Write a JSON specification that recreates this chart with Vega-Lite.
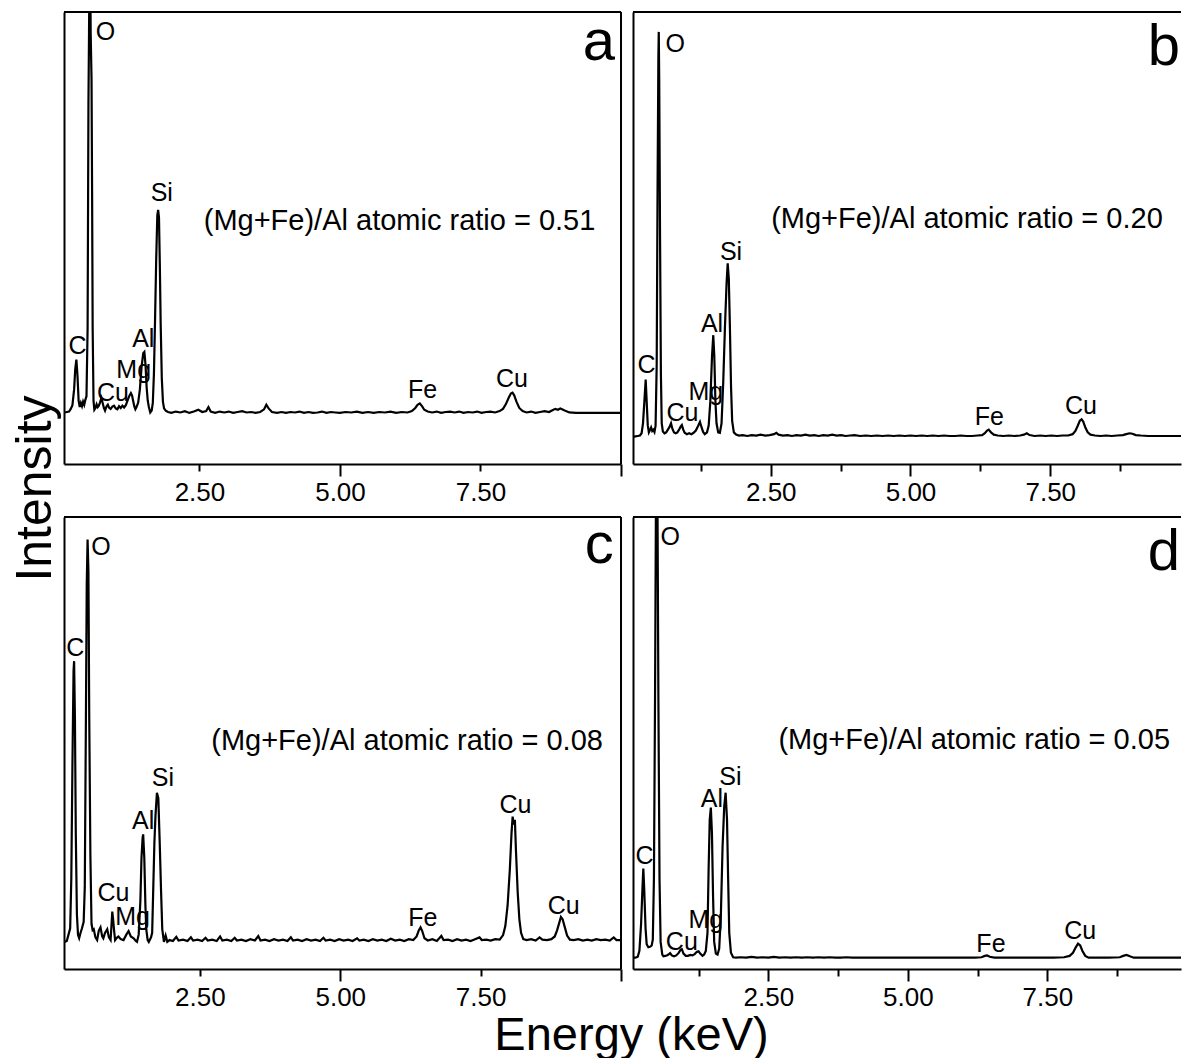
{
  "$schema": "https://vega.github.io/schema/vega-lite/v6.json",
  "background": "white",
  "padding": {"left": 10, "top": 11, "right": 0, "bottom": 0},
  "config": {
    "font": "Liberation Sans",
    "view": {"stroke": null},
    "axis": {"grid": false, "domainColor": "black", "domainWidth": 2, "tickColor": "black", "tickWidth": 2, "labelColor": "black", "titleColor": "black", "titleFontWeight": "normal"},
    "text": {"color": "black"}
  },
  "datasets": {
    "a": [
      {"keV":0.10,"counts":11.4},{"keV":0.14,"counts":11.5},{"keV":0.18,"counts":11.6},{"keV":0.21,"counts":12.2},{"keV":0.24,"counts":13.0},{"keV":0.27,"counts":16.5},{"keV":0.29,"counts":21.0},{"keV":0.31,"counts":23.1},{"keV":0.33,"counts":19.5},{"keV":0.35,"counts":14.0},{"keV":0.37,"counts":12.6},{"keV":0.39,"counts":13.5},{"keV":0.41,"counts":12.8},{"keV":0.43,"counts":13.8},{"keV":0.45,"counts":13.1},{"keV":0.47,"counts":14.2},{"keV":0.49,"counts":15.0},{"keV":0.51,"counts":30},{"keV":0.525,"counts":80},{"keV":0.535,"counts":95},{"keV":0.55,"counts":120},{"keV":0.565,"counts":95},{"keV":0.58,"counts":85},{"keV":0.59,"counts":60},{"keV":0.60,"counts":30},{"keV":0.615,"counts":14},{"keV":0.63,"counts":12.0},{"keV":0.65,"counts":12.4},{"keV":0.67,"counts":13.2},{"keV":0.69,"counts":12.6},{"keV":0.71,"counts":12.9},{"keV":0.73,"counts":13.6},{"keV":0.755,"counts":14.6},{"keV":0.78,"counts":13.4},{"keV":0.80,"counts":12.4},{"keV":0.82,"counts":11.8},{"keV":0.845,"counts":12.7},{"keV":0.87,"counts":13.1},{"keV":0.89,"counts":12.5},{"keV":0.92,"counts":12.2},{"keV":0.95,"counts":12.7},{"keV":0.98,"counts":12.9},{"keV":1.01,"counts":12.3},{"keV":1.04,"counts":12.1},{"keV":1.07,"counts":12.8},{"keV":1.10,"counts":12.4},{"keV":1.13,"counts":12.9},{"keV":1.16,"counts":12.5},{"keV":1.19,"counts":13.0},{"keV":1.22,"counts":14.0},{"keV":1.25,"counts":15.0},{"keV":1.28,"counts":15.7},{"keV":1.30,"counts":15.2},{"keV":1.32,"counts":14.0},{"keV":1.34,"counts":12.8},{"keV":1.36,"counts":12.1},{"keV":1.38,"counts":12.6},{"keV":1.41,"counts":13.6},{"keV":1.44,"counts":16.5},{"keV":1.47,"counts":21.5},{"keV":1.50,"counts":24.5},{"keV":1.52,"counts":24.8},{"keV":1.54,"counts":22.0},{"keV":1.56,"counts":17.0},{"keV":1.58,"counts":14.0},{"keV":1.60,"counts":12.6},{"keV":1.625,"counts":11.4},{"keV":1.65,"counts":11.8},{"keV":1.67,"counts":13.5},{"keV":1.69,"counts":20},{"keV":1.71,"counts":32},{"keV":1.73,"counts":45},{"keV":1.75,"counts":55},{"keV":1.765,"counts":56.2},{"keV":1.78,"counts":54.5},{"keV":1.795,"counts":44},{"keV":1.81,"counts":31},{"keV":1.83,"counts":19},{"keV":1.85,"counts":13.8},{"keV":1.87,"counts":12.3},{"keV":1.90,"counts":11.8},{"keV":1.94,"counts":11.5},{"keV":2.00,"counts":11.3},{"keV":2.08,"counts":11.6},{"keV":2.16,"counts":11.4},{"keV":2.24,"counts":11.7},{"keV":2.32,"counts":11.3},{"keV":2.40,"counts":11.6},{"keV":2.48,"counts":12.0},{"keV":2.55,"counts":11.5},{"keV":2.62,"counts":11.7},{"keV":2.66,"counts":12.6},{"keV":2.70,"counts":11.6},{"keV":2.78,"counts":11.3},{"keV":2.86,"counts":11.6},{"keV":2.94,"counts":11.4},{"keV":3.02,"counts":11.6},{"keV":3.10,"counts":11.3},{"keV":3.18,"counts":11.5},{"keV":3.26,"counts":11.7},{"keV":3.34,"counts":11.4},{"keV":3.42,"counts":11.5},{"keV":3.50,"counts":11.3},{"keV":3.58,"counts":11.5},{"keV":3.65,"counts":12.1},{"keV":3.69,"counts":13.1},{"keV":3.73,"counts":12.3},{"keV":3.79,"counts":11.5},{"keV":3.88,"counts":11.3},{"keV":3.96,"counts":11.5},{"keV":4.04,"counts":11.3},{"keV":4.12,"counts":11.5},{"keV":4.20,"counts":11.4},{"keV":4.28,"counts":11.6},{"keV":4.36,"counts":11.3},{"keV":4.44,"counts":11.5},{"keV":4.52,"counts":11.3},{"keV":4.60,"counts":11.4},{"keV":4.68,"counts":11.6},{"keV":4.76,"counts":11.3},{"keV":4.84,"counts":11.5},{"keV":4.92,"counts":11.4},{"keV":5.00,"counts":11.3},{"keV":5.10,"counts":11.5},{"keV":5.20,"counts":11.4},{"keV":5.30,"counts":11.6},{"keV":5.40,"counts":11.3},{"keV":5.50,"counts":11.5},{"keV":5.60,"counts":11.3},{"keV":5.70,"counts":11.5},{"keV":5.80,"counts":11.4},{"keV":5.90,"counts":11.6},{"keV":6.00,"counts":11.3},{"keV":6.10,"counts":11.5},{"keV":6.20,"counts":11.4},{"keV":6.28,"counts":11.7},{"keV":6.34,"counts":12.4},{"keV":6.38,"counts":13.1},{"keV":6.42,"counts":13.4},{"keV":6.46,"counts":12.8},{"keV":6.50,"counts":12.0},{"keV":6.56,"counts":11.6},{"keV":6.64,"counts":11.4},{"keV":6.72,"counts":11.6},{"keV":6.80,"counts":11.3},{"keV":6.88,"counts":11.5},{"keV":6.96,"counts":11.6},{"keV":7.04,"counts":11.4},{"keV":7.12,"counts":11.6},{"keV":7.20,"counts":11.3},{"keV":7.28,"counts":11.5},{"keV":7.36,"counts":11.4},{"keV":7.44,"counts":11.6},{"keV":7.52,"counts":11.3},{"keV":7.60,"counts":11.5},{"keV":7.68,"counts":11.6},{"keV":7.76,"counts":11.4},{"keV":7.84,"counts":11.7},{"keV":7.90,"counts":12.2},{"keV":7.95,"counts":13.2},{"keV":8.00,"counts":14.6},{"keV":8.04,"counts":15.6},{"keV":8.07,"counts":15.8},{"keV":8.10,"counts":15.2},{"keV":8.14,"counts":13.8},{"keV":8.19,"counts":12.4},{"keV":8.25,"counts":11.7},{"keV":8.32,"counts":11.4},{"keV":8.40,"counts":11.6},{"keV":8.48,"counts":11.3},{"keV":8.56,"counts":11.5},{"keV":8.64,"counts":11.7},{"keV":8.72,"counts":11.5},{"keV":8.78,"counts":11.9},{"keV":8.83,"counts":12.2},{"keV":8.88,"counts":12.0},{"keV":8.92,"counts":12.3},{"keV":8.97,"counts":12.0},{"keV":9.02,"counts":11.7},{"keV":9.08,"counts":11.4},{"keV":9.20,"counts":11.3},{"keV":9.40,"counts":11.3},{"keV":9.60,"counts":11.3},{"keV":9.80,"counts":11.3},{"keV":10.0,"counts":11.3}
    ],
    "b": [
      {"keV":0.04,"counts":6.0},{"keV":0.08,"counts":6.1},{"keV":0.12,"counts":6.2},{"keV":0.16,"counts":6.3},{"keV":0.19,"counts":6.8},{"keV":0.215,"counts":9.0},{"keV":0.24,"counts":14.0},{"keV":0.263,"counts":18.7},{"keV":0.28,"counts":14.0},{"keV":0.30,"counts":8.6},{"keV":0.32,"counts":7.0},{"keV":0.34,"counts":7.5},{"keV":0.36,"counts":8.1},{"keV":0.38,"counts":7.3},{"keV":0.40,"counts":7.6},{"keV":0.42,"counts":7.1},{"keV":0.44,"counts":8.5},{"keV":0.46,"counts":22},{"keV":0.475,"counts":60},{"keV":0.49,"counts":90},{"keV":0.497,"counts":95.6},{"keV":0.505,"counts":85},{"keV":0.52,"counts":50},{"keV":0.535,"counts":20},{"keV":0.55,"counts":9.0},{"keV":0.57,"counts":7.2},{"keV":0.60,"counts":6.8},{"keV":0.63,"counts":7.0},{"keV":0.66,"counts":7.6},{"keV":0.69,"counts":8.2},{"keV":0.716,"counts":9.0},{"keV":0.74,"counts":7.8},{"keV":0.77,"counts":7.0},{"keV":0.80,"counts":6.8},{"keV":0.83,"counts":7.0},{"keV":0.86,"counts":7.6},{"keV":0.89,"counts":8.3},{"keV":0.91,"counts":8.6},{"keV":0.935,"counts":7.6},{"keV":0.96,"counts":6.9},{"keV":1.00,"counts":6.6},{"keV":1.04,"counts":6.8},{"keV":1.08,"counts":6.6},{"keV":1.12,"counts":6.9},{"keV":1.16,"counts":7.4},{"keV":1.20,"counts":8.4},{"keV":1.234,"counts":9.3},{"keV":1.26,"counts":8.2},{"keV":1.29,"counts":7.1},{"keV":1.32,"counts":6.6},{"keV":1.36,"counts":7.0},{"keV":1.39,"counts":8.5},{"keV":1.42,"counts":14},{"keV":1.45,"counts":24},{"keV":1.472,"counts":28.5},{"keV":1.49,"counts":24},{"keV":1.51,"counts":14},{"keV":1.53,"counts":9.0},{"keV":1.56,"counts":7.0},{"keV":1.59,"counts":6.9},{"keV":1.62,"counts":9.0},{"keV":1.65,"counts":18},{"keV":1.68,"counts":30},{"keV":1.71,"counts":40},{"keV":1.73,"counts":44.4},{"keV":1.75,"counts":41},{"keV":1.77,"counts":30},{"keV":1.79,"counts":17},{"keV":1.81,"counts":9.5},{"keV":1.84,"counts":7.0},{"keV":1.88,"counts":6.5},{"keV":1.93,"counts":6.3},{"keV":2.00,"counts":6.4},{"keV":2.08,"counts":6.2},{"keV":2.16,"counts":6.4},{"keV":2.24,"counts":6.3},{"keV":2.32,"counts":6.5},{"keV":2.40,"counts":6.3},{"keV":2.48,"counts":6.4},{"keV":2.56,"counts":6.6},{"keV":2.60,"counts":6.9},{"keV":2.64,"counts":6.5},{"keV":2.72,"counts":6.3},{"keV":2.80,"counts":6.4},{"keV":2.88,"counts":6.2},{"keV":2.96,"counts":6.4},{"keV":3.04,"counts":6.3},{"keV":3.12,"counts":6.5},{"keV":3.20,"counts":6.3},{"keV":3.28,"counts":6.4},{"keV":3.36,"counts":6.2},{"keV":3.44,"counts":6.4},{"keV":3.52,"counts":6.3},{"keV":3.60,"counts":6.5},{"keV":3.68,"counts":6.3},{"keV":3.76,"counts":6.4},{"keV":3.84,"counts":6.2},{"keV":3.92,"counts":6.3},{"keV":4.00,"counts":6.4},{"keV":4.10,"counts":6.2},{"keV":4.20,"counts":6.3},{"keV":4.30,"counts":6.2},{"keV":4.40,"counts":6.3},{"keV":4.50,"counts":6.2},{"keV":4.60,"counts":6.3},{"keV":4.70,"counts":6.2},{"keV":4.80,"counts":6.3},{"keV":4.90,"counts":6.2},{"keV":5.00,"counts":6.3},{"keV":5.10,"counts":6.2},{"keV":5.20,"counts":6.3},{"keV":5.30,"counts":6.2},{"keV":5.40,"counts":6.3},{"keV":5.50,"counts":6.2},{"keV":5.60,"counts":6.3},{"keV":5.70,"counts":6.2},{"keV":5.80,"counts":6.2},{"keV":5.90,"counts":6.3},{"keV":6.00,"counts":6.2},{"keV":6.10,"counts":6.2},{"keV":6.20,"counts":6.3},{"keV":6.28,"counts":6.4},{"keV":6.33,"counts":6.8},{"keV":6.37,"counts":7.4},{"keV":6.40,"counts":7.6},{"keV":6.44,"counts":7.0},{"keV":6.49,"counts":6.5},{"keV":6.56,"counts":6.3},{"keV":6.66,"counts":6.2},{"keV":6.76,"counts":6.3},{"keV":6.86,"counts":6.2},{"keV":6.96,"counts":6.3},{"keV":7.03,"counts":6.5},{"keV":7.08,"counts":6.8},{"keV":7.13,"counts":6.4},{"keV":7.22,"counts":6.2},{"keV":7.32,"counts":6.3},{"keV":7.42,"counts":6.2},{"keV":7.52,"counts":6.3},{"keV":7.62,"counts":6.2},{"keV":7.72,"counts":6.3},{"keV":7.82,"counts":6.3},{"keV":7.90,"counts":6.6},{"keV":7.95,"counts":7.3},{"keV":7.99,"counts":8.4},{"keV":8.03,"counts":9.6},{"keV":8.06,"counts":9.9},{"keV":8.09,"counts":9.4},{"keV":8.13,"counts":8.0},{"keV":8.17,"counts":7.0},{"keV":8.22,"counts":6.5},{"keV":8.30,"counts":6.3},{"keV":8.40,"counts":6.2},{"keV":8.50,"counts":6.3},{"keV":8.60,"counts":6.2},{"keV":8.70,"counts":6.3},{"keV":8.80,"counts":6.4},{"keV":8.86,"counts":6.6},{"keV":8.92,"counts":6.8},{"keV":8.97,"counts":6.7},{"keV":9.03,"counts":6.4},{"keV":9.12,"counts":6.3},{"keV":9.25,"counts":6.2},{"keV":9.40,"counts":6.2},{"keV":9.55,"counts":6.2},{"keV":9.70,"counts":6.2},{"keV":9.84,"counts":6.2}
    ],
    "c": [
      {"keV":0.09,"counts":6.0},{"keV":0.13,"counts":6.2},{"keV":0.16,"counts":7.6},{"keV":0.19,"counts":9.0},{"keV":0.21,"counts":20},{"keV":0.23,"counts":45},{"keV":0.25,"counts":66},{"keV":0.26,"counts":68.1},{"keV":0.275,"counts":55},{"keV":0.29,"counts":30},{"keV":0.31,"counts":12},{"keV":0.33,"counts":7.5},{"keV":0.35,"counts":6.8},{"keV":0.37,"counts":7.8},{"keV":0.40,"counts":9.0},{"keV":0.43,"counts":10.4},{"keV":0.45,"counts":18},{"keV":0.47,"counts":55},{"keV":0.485,"counts":85},{"keV":0.50,"counts":95},{"keV":0.515,"counts":88},{"keV":0.53,"counts":55},{"keV":0.55,"counts":25},{"keV":0.57,"counts":10},{"keV":0.59,"counts":8.6},{"keV":0.61,"counts":8.8},{"keV":0.64,"counts":7.0},{"keV":0.67,"counts":6.4},{"keV":0.70,"counts":8.5},{"keV":0.73,"counts":9.2},{"keV":0.76,"counts":7.2},{"keV":0.78,"counts":6.8},{"keV":0.81,"counts":8.0},{"keV":0.85,"counts":8.8},{"keV":0.88,"counts":7.0},{"keV":0.91,"counts":6.4},{"keV":0.925,"counts":9.5},{"keV":0.94,"counts":12.7},{"keV":0.955,"counts":11.0},{"keV":0.97,"counts":8.8},{"keV":0.99,"counts":6.4},{"keV":1.02,"counts":6.9},{"keV":1.05,"counts":7.2},{"keV":1.09,"counts":6.6},{"keV":1.14,"counts":6.4},{"keV":1.19,"counts":7.6},{"keV":1.23,"counts":8.4},{"keV":1.27,"counts":7.2},{"keV":1.32,"counts":6.8},{"keV":1.36,"counts":6.2},{"keV":1.38,"counts":6.0},{"keV":1.41,"counts":7.6},{"keV":1.44,"counts":15},{"keV":1.46,"counts":24.6},{"keV":1.48,"counts":29.0},{"keV":1.49,"counts":29.8},{"keV":1.51,"counts":24.6},{"keV":1.53,"counts":14},{"keV":1.545,"counts":8.8},{"keV":1.57,"counts":6.4},{"keV":1.59,"counts":6.0},{"keV":1.63,"counts":7.0},{"keV":1.65,"counts":8.0},{"keV":1.67,"counts":18},{"keV":1.69,"counts":28},{"keV":1.71,"counts":34.1},{"keV":1.735,"counts":39.0},{"keV":1.76,"counts":37.8},{"keV":1.785,"counts":27.8},{"keV":1.81,"counts":16.7},{"keV":1.83,"counts":8.8},{"keV":1.86,"counts":6.0},{"keV":1.89,"counts":7.4},{"keV":1.92,"counts":6.0},{"keV":1.96,"counts":6.4},{"keV":2.02,"counts":6.2},{"keV":2.08,"counts":7.1},{"keV":2.12,"counts":6.3},{"keV":2.20,"counts":6.5},{"keV":2.28,"counts":6.2},{"keV":2.34,"counts":7.0},{"keV":2.38,"counts":6.3},{"keV":2.46,"counts":6.5},{"keV":2.54,"counts":6.2},{"keV":2.60,"counts":6.9},{"keV":2.64,"counts":6.3},{"keV":2.72,"counts":6.5},{"keV":2.80,"counts":6.2},{"keV":2.86,"counts":7.2},{"keV":2.90,"counts":6.3},{"keV":2.98,"counts":6.5},{"keV":3.06,"counts":6.2},{"keV":3.12,"counts":6.9},{"keV":3.16,"counts":6.3},{"keV":3.24,"counts":6.5},{"keV":3.32,"counts":6.2},{"keV":3.40,"counts":6.6},{"keV":3.48,"counts":6.3},{"keV":3.54,"counts":7.3},{"keV":3.58,"counts":6.3},{"keV":3.66,"counts":6.5},{"keV":3.74,"counts":6.2},{"keV":3.82,"counts":6.6},{"keV":3.90,"counts":6.3},{"keV":3.98,"counts":6.5},{"keV":4.06,"counts":6.2},{"keV":4.12,"counts":7.0},{"keV":4.16,"counts":6.3},{"keV":4.24,"counts":6.5},{"keV":4.32,"counts":6.2},{"keV":4.40,"counts":6.6},{"keV":4.48,"counts":6.3},{"keV":4.56,"counts":6.5},{"keV":4.64,"counts":6.2},{"keV":4.70,"counts":6.9},{"keV":4.74,"counts":6.3},{"keV":4.82,"counts":6.5},{"keV":4.90,"counts":6.2},{"keV":4.98,"counts":6.6},{"keV":5.06,"counts":6.3},{"keV":5.14,"counts":6.5},{"keV":5.22,"counts":6.2},{"keV":5.30,"counts":6.8},{"keV":5.34,"counts":6.3},{"keV":5.42,"counts":6.5},{"keV":5.50,"counts":6.2},{"keV":5.58,"counts":6.6},{"keV":5.66,"counts":6.3},{"keV":5.74,"counts":6.5},{"keV":5.82,"counts":6.2},{"keV":5.90,"counts":6.7},{"keV":5.98,"counts":6.3},{"keV":6.06,"counts":6.5},{"keV":6.14,"counts":6.2},{"keV":6.22,"counts":6.6},{"keV":6.30,"counts":6.4},{"keV":6.36,"counts":7.2},{"keV":6.40,"counts":8.6},{"keV":6.43,"counts":9.2},{"keV":6.46,"counts":8.4},{"keV":6.50,"counts":6.8},{"keV":6.56,"counts":6.3},{"keV":6.64,"counts":6.6},{"keV":6.72,"counts":6.2},{"keV":6.80,"counts":7.3},{"keV":6.84,"counts":6.4},{"keV":6.92,"counts":6.5},{"keV":7.00,"counts":6.2},{"keV":7.08,"counts":6.6},{"keV":7.16,"counts":6.3},{"keV":7.24,"counts":6.5},{"keV":7.32,"counts":6.2},{"keV":7.40,"counts":6.6},{"keV":7.48,"counts":7.0},{"keV":7.52,"counts":6.4},{"keV":7.60,"counts":6.5},{"keV":7.68,"counts":6.3},{"keV":7.76,"counts":6.6},{"keV":7.84,"counts":6.5},{"keV":7.90,"counts":7.5},{"keV":7.94,"counts":9.5},{"keV":7.98,"counts":14},{"keV":8.02,"counts":22},{"keV":8.05,"counts":30},{"keV":8.07,"counts":33.7},{"keV":8.09,"counts":32},{"keV":8.11,"counts":33},{"keV":8.13,"counts":26},{"keV":8.16,"counts":17},{"keV":8.19,"counts":11},{"keV":8.22,"counts":8.0},{"keV":8.26,"counts":6.6},{"keV":8.32,"counts":6.4},{"keV":8.40,"counts":6.6},{"keV":8.48,"counts":6.3},{"keV":8.55,"counts":7.0},{"keV":8.60,"counts":6.5},{"keV":8.68,"counts":6.4},{"keV":8.76,"counts":6.6},{"keV":8.82,"counts":7.2},{"keV":8.86,"counts":8.5},{"keV":8.90,"counts":10.2},{"keV":8.93,"counts":11.5},{"keV":8.96,"counts":11.0},{"keV":9.00,"counts":9.2},{"keV":9.04,"counts":7.4},{"keV":9.09,"counts":6.5},{"keV":9.16,"counts":6.4},{"keV":9.24,"counts":6.6},{"keV":9.32,"counts":6.3},{"keV":9.40,"counts":6.5},{"keV":9.48,"counts":6.3},{"keV":9.56,"counts":6.6},{"keV":9.64,"counts":6.4},{"keV":9.72,"counts":6.5},{"keV":9.80,"counts":6.3},{"keV":9.87,"counts":7.0},{"keV":9.92,"counts":6.4},{"keV":10.0,"counts":6.4}
    ],
    "d": [
      {"keV":0.08,"counts":2.5},{"keV":0.12,"counts":2.5},{"keV":0.16,"counts":2.7},{"keV":0.19,"counts":4.0},{"keV":0.22,"counts":10},{"keV":0.245,"counts":18},{"keV":0.26,"counts":22.2},{"keV":0.275,"counts":18},{"keV":0.30,"counts":9.0},{"keV":0.32,"counts":5.5},{"keV":0.35,"counts":4.8},{"keV":0.38,"counts":4.9},{"keV":0.41,"counts":5.2},{"keV":0.43,"counts":6.5},{"keV":0.45,"counts":20},{"keV":0.47,"counts":60},{"keV":0.485,"counts":100},{"keV":0.50,"counts":118},{"keV":0.515,"counts":100},{"keV":0.53,"counts":60},{"keV":0.55,"counts":20},{"keV":0.57,"counts":6.0},{"keV":0.60,"counts":3.2},{"keV":0.62,"counts":2.8},{"keV":0.65,"counts":2.9},{"keV":0.68,"counts":3.0},{"keV":0.71,"counts":3.2},{"keV":0.74,"counts":3.5},{"keV":0.77,"counts":3.0},{"keV":0.81,"counts":2.8},{"keV":0.85,"counts":3.0},{"keV":0.89,"counts":3.5},{"keV":0.93,"counts":4.3},{"keV":0.95,"counts":4.4},{"keV":0.98,"counts":3.4},{"keV":1.02,"counts":2.9},{"keV":1.06,"counts":2.9},{"keV":1.10,"counts":3.1},{"keV":1.14,"counts":3.0},{"keV":1.18,"counts":3.3},{"keV":1.22,"counts":3.8},{"keV":1.25,"counts":3.9},{"keV":1.28,"counts":3.4},{"keV":1.32,"counts":2.9},{"keV":1.35,"counts":3.2},{"keV":1.38,"counts":4.0},{"keV":1.41,"counts":8.0},{"keV":1.43,"counts":22},{"keV":1.45,"counts":33},{"keV":1.47,"counts":35.7},{"keV":1.49,"counts":30},{"keV":1.51,"counts":16},{"keV":1.53,"counts":6.0},{"keV":1.56,"counts":3.4},{"keV":1.59,"counts":3.2},{"keV":1.62,"counts":4.5},{"keV":1.65,"counts":12},{"keV":1.68,"counts":27},{"keV":1.71,"counts":36},{"keV":1.735,"counts":39.0},{"keV":1.76,"counts":33},{"keV":1.78,"counts":20},{"keV":1.80,"counts":8.0},{"keV":1.83,"counts":3.6},{"keV":1.87,"counts":2.6},{"keV":1.92,"counts":2.5},{"keV":2.00,"counts":2.6},{"keV":2.10,"counts":2.5},{"keV":2.20,"counts":2.7},{"keV":2.30,"counts":2.5},{"keV":2.40,"counts":2.6},{"keV":2.50,"counts":2.5},{"keV":2.60,"counts":2.7},{"keV":2.70,"counts":2.5},{"keV":2.80,"counts":2.6},{"keV":2.90,"counts":2.5},{"keV":3.00,"counts":2.6},{"keV":3.10,"counts":2.5},{"keV":3.20,"counts":2.6},{"keV":3.30,"counts":2.5},{"keV":3.40,"counts":2.6},{"keV":3.50,"counts":2.5},{"keV":3.60,"counts":2.6},{"keV":3.70,"counts":2.5},{"keV":3.80,"counts":2.5},{"keV":3.90,"counts":2.6},{"keV":4.00,"counts":2.5},{"keV":4.20,"counts":2.5},{"keV":4.40,"counts":2.5},{"keV":4.60,"counts":2.5},{"keV":4.80,"counts":2.5},{"keV":5.00,"counts":2.5},{"keV":5.20,"counts":2.5},{"keV":5.40,"counts":2.5},{"keV":5.60,"counts":2.5},{"keV":5.80,"counts":2.5},{"keV":6.00,"counts":2.5},{"keV":6.20,"counts":2.5},{"keV":6.32,"counts":2.6},{"keV":6.38,"counts":2.9},{"keV":6.42,"counts":3.0},{"keV":6.47,"counts":2.7},{"keV":6.55,"counts":2.5},{"keV":6.80,"counts":2.5},{"keV":7.00,"counts":2.5},{"keV":7.20,"counts":2.5},{"keV":7.40,"counts":2.5},{"keV":7.60,"counts":2.5},{"keV":7.80,"counts":2.6},{"keV":7.90,"counts":2.9},{"keV":7.96,"counts":3.6},{"keV":8.01,"counts":4.8},{"keV":8.05,"counts":5.6},{"keV":8.09,"counts":5.2},{"keV":8.13,"counts":4.0},{"keV":8.18,"counts":2.9},{"keV":8.24,"counts":2.5},{"keV":8.40,"counts":2.5},{"keV":8.60,"counts":2.5},{"keV":8.80,"counts":2.6},{"keV":8.86,"counts":2.9},{"keV":8.92,"counts":3.1},{"keV":8.98,"counts":2.8},{"keV":9.05,"counts":2.5},{"keV":9.30,"counts":2.5},{"keV":9.60,"counts":2.5},{"keV":9.90,"counts":2.5}
    ],
    "labels": [
      {"panel":"a","kind":"element","keV":0.83,"counts":95.5,"label":"O"},
      {"panel":"a","kind":"element","keV":1.83,"counts":60.0,"label":"Si"},
      {"panel":"a","kind":"element","keV":0.33,"counts":26.0,"label":"C"},
      {"panel":"a","kind":"element","keV":1.50,"counts":27.7,"label":"Al"},
      {"panel":"a","kind":"element","keV":1.33,"counts":20.9,"label":"Mg"},
      {"panel":"a","kind":"element","keV":0.96,"counts":15.6,"label":"Cu"},
      {"panel":"a","kind":"element","keV":6.47,"counts":16.3,"label":"Fe"},
      {"panel":"a","kind":"element","keV":8.06,"counts":18.8,"label":"Cu"},
      {"panel":"a","kind":"ratio","keV":6.06,"counts":53.8,"label":"(Mg+Fe)/Al atomic ratio = 0.51"},
      {"panel":"a","kind":"letter","keV":9.895,"counts":89.4,"label":"a"},
      {"panel":"b","kind":"element","keV":0.79,"counts":92.9,"label":"O"},
      {"panel":"b","kind":"element","keV":1.79,"counts":46.8,"label":"Si"},
      {"panel":"b","kind":"element","keV":1.45,"counts":31.0,"label":"Al"},
      {"panel":"b","kind":"element","keV":0.28,"counts":21.8,"label":"C"},
      {"panel":"b","kind":"element","keV":1.34,"counts":16.0,"label":"Mg"},
      {"panel":"b","kind":"element","keV":0.92,"counts":11.2,"label":"Cu"},
      {"panel":"b","kind":"element","keV":6.41,"counts":10.3,"label":"Fe"},
      {"panel":"b","kind":"element","keV":8.05,"counts":12.8,"label":"Cu"},
      {"panel":"b","kind":"ratio","keV":6.01,"counts":54.3,"label":"(Mg+Fe)/Al atomic ratio = 0.20"},
      {"panel":"b","kind":"letter","keV":9.82,"counts":88.3,"label":"b"},
      {"panel":"c","kind":"element","keV":0.74,"counts":93.4,"label":"O"},
      {"panel":"c","kind":"element","keV":0.28,"counts":71.0,"label":"C"},
      {"panel":"c","kind":"element","keV":1.84,"counts":42.2,"label":"Si"},
      {"panel":"c","kind":"element","keV":1.49,"counts":32.7,"label":"Al"},
      {"panel":"c","kind":"element","keV":0.96,"counts":16.9,"label":"Cu"},
      {"panel":"c","kind":"element","keV":1.30,"counts":11.6,"label":"Mg"},
      {"panel":"c","kind":"element","keV":6.47,"counts":11.2,"label":"Fe"},
      {"panel":"c","kind":"element","keV":8.12,"counts":36.2,"label":"Cu"},
      {"panel":"c","kind":"element","keV":8.98,"counts":14.0,"label":"Cu"},
      {"panel":"c","kind":"ratio","keV":6.19,"counts":50.4,"label":"(Mg+Fe)/Al atomic ratio = 0.08"},
      {"panel":"c","kind":"letter","keV":9.87,"counts":89.9,"label":"c"},
      {"panel":"d","kind":"element","keV":0.74,"counts":95.6,"label":"O"},
      {"panel":"d","kind":"element","keV":0.28,"counts":25.0,"label":"C"},
      {"panel":"d","kind":"element","keV":1.49,"counts":37.7,"label":"Al"},
      {"panel":"d","kind":"element","keV":1.82,"counts":42.5,"label":"Si"},
      {"panel":"d","kind":"element","keV":1.38,"counts":10.8,"label":"Mg"},
      {"panel":"d","kind":"element","keV":0.95,"counts":5.9,"label":"Cu"},
      {"panel":"d","kind":"element","keV":6.49,"counts":5.5,"label":"Fe"},
      {"panel":"d","kind":"element","keV":8.09,"counts":8.5,"label":"Cu"},
      {"panel":"d","kind":"ratio","keV":6.19,"counts":50.7,"label":"(Mg+Fe)/Al atomic ratio = 0.05"},
      {"panel":"d","kind":"letter","keV":9.88,"counts":88.3,"label":"d"}
    ]
  },
  "columns": 2,
  "bounds": "flush",
  "spacing": {"row": 53, "column": 12},
  "concat": [
    {
      "width": 557, "height": 452,
      "layer": [
        {"data": {"name": "a"}, "mark": {"type": "line", "color": "black", "strokeWidth": 2.2, "clip": true},
         "encoding": {
           "x": {"field": "keV", "type": "quantitative", "scale": {"domain": [0.09, 10], "nice": false, "zero": false},
                 "axis": {"values": [2.5, 5, 7.5, 10], "labelExpr": "datum.value >= 10 ? '' : format(datum.value, '.2f')", "labelFontSize": 26, "labelFlush": false, "labelOverlap": false,
                          "tickSize": {"condition": {"test": "datum.value % 5 === 0", "value": 12}, "value": 7},
                          "labelPadding": {"condition": {"test": "datum.value % 5 === 0", "value": 3}, "value": 8}, "title": null}},
           "y": {"field": "counts", "type": "quantitative", "scale": {"domain": [0, 100], "nice": false, "zero": false},
                 "axis": {"labels": false, "ticks": false, "title": "Intensity", "titleFontSize": 50, "titleX": -29, "titleY": 476, "titleAngle": 270, "titleBaseline": "middle", "titleAlign": "center"}}
         }},
        {"data": {"values": [{}]}, "mark": {"type": "rule", "color": "black", "strokeWidth": 2},
         "encoding": {"y": {"datum": 100, "type": "quantitative", "scale": {"domain": [0, 100], "nice": false, "zero": false}}}},
        {"data": {"values": [{}]}, "mark": {"type": "rule", "color": "black", "strokeWidth": 2},
         "encoding": {"x": {"datum": 10, "type": "quantitative", "scale": {"domain": [0.09, 10], "nice": false, "zero": false}}}},
        {"data": {"name": "labels"}, "transform": [{"filter": "datum.panel === 'a' && datum.kind === 'element'"}],
         "mark": {"type": "text", "fontSize": 25, "align": "center", "baseline": "middle"},
         "encoding": {"x": {"field": "keV", "type": "quantitative", "scale": {"domain": [0.09, 10], "nice": false, "zero": false}},
                      "y": {"field": "counts", "type": "quantitative", "scale": {"domain": [0, 100], "nice": false, "zero": false}},
                      "text": {"field": "label"}}},
        {"data": {"name": "labels"}, "transform": [{"filter": "datum.panel === 'a' && datum.kind === 'ratio'"}],
         "mark": {"type": "text", "fontSize": 29, "align": "center", "baseline": "middle"},
         "encoding": {"x": {"field": "keV", "type": "quantitative", "scale": {"domain": [0.09, 10], "nice": false, "zero": false}},
                      "y": {"field": "counts", "type": "quantitative", "scale": {"domain": [0, 100], "nice": false, "zero": false}},
                      "text": {"field": "label"}}},
        {"data": {"name": "labels"}, "transform": [{"filter": "datum.panel === 'a' && datum.kind === 'letter'"}],
         "mark": {"type": "text", "fontSize": 58, "align": "right", "baseline": "alphabetic"},
         "encoding": {"x": {"field": "keV", "type": "quantitative", "scale": {"domain": [0.09, 10], "nice": false, "zero": false}},
                      "y": {"field": "counts", "type": "quantitative", "scale": {"domain": [0, 100], "nice": false, "zero": false}},
                      "text": {"field": "label"}}}
      ]
    },
    {
      "width": 548, "height": 452,
      "layer": [
        {"data": {"name": "b"}, "mark": {"type": "line", "color": "black", "strokeWidth": 2.2, "clip": true},
         "encoding": {
           "x": {"field": "keV", "type": "quantitative", "scale": {"domain": [0.036, 9.839], "nice": false, "zero": false},
                 "axis": {"values": [1.25, 2.5, 3.75, 5, 6.25, 7.5, 8.75], "labelExpr": "datum.value % 2.5 === 0 ? format(datum.value, '.2f') : ''", "labelFontSize": 26, "labelFlush": false, "labelOverlap": false,
                          "tickSize": {"condition": {"test": "datum.value % 2.5 === 0", "value": 12}, "value": 7},
                          "labelPadding": {"condition": {"test": "datum.value % 2.5 === 0", "value": 3}, "value": 8}, "title": null}},
           "y": {"field": "counts", "type": "quantitative", "scale": {"domain": [0, 100], "nice": false, "zero": false},
                 "axis": {"labels": false, "ticks": false, "title": null}}
         }},
        {"data": {"values": [{}]}, "mark": {"type": "rule", "color": "black", "strokeWidth": 2},
         "encoding": {"y": {"datum": 100, "type": "quantitative", "scale": {"domain": [0, 100], "nice": false, "zero": false}}}},
        {"data": {"name": "labels"}, "transform": [{"filter": "datum.panel === 'b' && datum.kind === 'element'"}],
         "mark": {"type": "text", "fontSize": 25, "align": "center", "baseline": "middle"},
         "encoding": {"x": {"field": "keV", "type": "quantitative", "scale": {"domain": [0.036, 9.839], "nice": false, "zero": false}},
                      "y": {"field": "counts", "type": "quantitative", "scale": {"domain": [0, 100], "nice": false, "zero": false}},
                      "text": {"field": "label"}}},
        {"data": {"name": "labels"}, "transform": [{"filter": "datum.panel === 'b' && datum.kind === 'ratio'"}],
         "mark": {"type": "text", "fontSize": 29, "align": "center", "baseline": "middle"},
         "encoding": {"x": {"field": "keV", "type": "quantitative", "scale": {"domain": [0.036, 9.839], "nice": false, "zero": false}},
                      "y": {"field": "counts", "type": "quantitative", "scale": {"domain": [0, 100], "nice": false, "zero": false}},
                      "text": {"field": "label"}}},
        {"data": {"name": "labels"}, "transform": [{"filter": "datum.panel === 'b' && datum.kind === 'letter'"}],
         "mark": {"type": "text", "fontSize": 58, "align": "right", "baseline": "alphabetic"},
         "encoding": {"x": {"field": "keV", "type": "quantitative", "scale": {"domain": [0.036, 9.839], "nice": false, "zero": false}},
                      "y": {"field": "counts", "type": "quantitative", "scale": {"domain": [0, 100], "nice": false, "zero": false}},
                      "text": {"field": "label"}}}
      ]
    },
    {
      "width": 557, "height": 452,
      "layer": [
        {"data": {"name": "c"}, "mark": {"type": "line", "color": "black", "strokeWidth": 2.2, "clip": true},
         "encoding": {
           "x": {"field": "keV", "type": "quantitative", "scale": {"domain": [0.08, 10], "nice": false, "zero": false},
                 "axis": {"values": [2.5, 5, 7.5, 10], "labelExpr": "datum.value >= 10 ? '' : format(datum.value, '.2f')", "labelFontSize": 26, "labelFlush": false, "labelOverlap": false,
                          "tickSize": {"condition": {"test": "datum.value % 5 === 0", "value": 12}, "value": 7},
                          "labelPadding": {"condition": {"test": "datum.value % 5 === 0", "value": 3}, "value": 8},
                          "title": "Energy (keV)", "titleFontSize": 47, "titleX": 567, "titleY": 66, "titleAngle": 0, "titleBaseline": "middle", "titleAlign": "center"}},
           "y": {"field": "counts", "type": "quantitative", "scale": {"domain": [0, 100], "nice": false, "zero": false},
                 "axis": {"labels": false, "ticks": false, "title": null}}
         }},
        {"data": {"values": [{}]}, "mark": {"type": "rule", "color": "black", "strokeWidth": 2},
         "encoding": {"y": {"datum": 100, "type": "quantitative", "scale": {"domain": [0, 100], "nice": false, "zero": false}}}},
        {"data": {"values": [{}]}, "mark": {"type": "rule", "color": "black", "strokeWidth": 2},
         "encoding": {"x": {"datum": 10, "type": "quantitative", "scale": {"domain": [0.08, 10], "nice": false, "zero": false}}}},
        {"data": {"name": "labels"}, "transform": [{"filter": "datum.panel === 'c' && datum.kind === 'element'"}],
         "mark": {"type": "text", "fontSize": 25, "align": "center", "baseline": "middle"},
         "encoding": {"x": {"field": "keV", "type": "quantitative", "scale": {"domain": [0.08, 10], "nice": false, "zero": false}},
                      "y": {"field": "counts", "type": "quantitative", "scale": {"domain": [0, 100], "nice": false, "zero": false}},
                      "text": {"field": "label"}}},
        {"data": {"name": "labels"}, "transform": [{"filter": "datum.panel === 'c' && datum.kind === 'ratio'"}],
         "mark": {"type": "text", "fontSize": 29, "align": "center", "baseline": "middle"},
         "encoding": {"x": {"field": "keV", "type": "quantitative", "scale": {"domain": [0.08, 10], "nice": false, "zero": false}},
                      "y": {"field": "counts", "type": "quantitative", "scale": {"domain": [0, 100], "nice": false, "zero": false}},
                      "text": {"field": "label"}}},
        {"data": {"name": "labels"}, "transform": [{"filter": "datum.panel === 'c' && datum.kind === 'letter'"}],
         "mark": {"type": "text", "fontSize": 58, "align": "right", "baseline": "alphabetic"},
         "encoding": {"x": {"field": "keV", "type": "quantitative", "scale": {"domain": [0.08, 10], "nice": false, "zero": false}},
                      "y": {"field": "counts", "type": "quantitative", "scale": {"domain": [0, 100], "nice": false, "zero": false}},
                      "text": {"field": "label"}}}
      ]
    },
    {
      "width": 548, "height": 452,
      "layer": [
        {"data": {"name": "d"}, "mark": {"type": "line", "color": "black", "strokeWidth": 2.2, "clip": true},
         "encoding": {
           "x": {"field": "keV", "type": "quantitative", "scale": {"domain": [0.075, 9.896], "nice": false, "zero": false},
                 "axis": {"values": [1.25, 2.5, 3.75, 5, 6.25, 7.5, 8.75], "labelExpr": "datum.value % 2.5 === 0 ? format(datum.value, '.2f') : ''", "labelFontSize": 26, "labelFlush": false, "labelOverlap": false,
                          "tickSize": {"condition": {"test": "datum.value % 2.5 === 0", "value": 12}, "value": 7},
                          "labelPadding": {"condition": {"test": "datum.value % 2.5 === 0", "value": 3}, "value": 8}, "title": null}},
           "y": {"field": "counts", "type": "quantitative", "scale": {"domain": [0, 100], "nice": false, "zero": false},
                 "axis": {"labels": false, "ticks": false, "title": null}}
         }},
        {"data": {"values": [{}]}, "mark": {"type": "rule", "color": "black", "strokeWidth": 2},
         "encoding": {"y": {"datum": 100, "type": "quantitative", "scale": {"domain": [0, 100], "nice": false, "zero": false}}}},
        {"data": {"name": "labels"}, "transform": [{"filter": "datum.panel === 'd' && datum.kind === 'element'"}],
         "mark": {"type": "text", "fontSize": 25, "align": "center", "baseline": "middle"},
         "encoding": {"x": {"field": "keV", "type": "quantitative", "scale": {"domain": [0.075, 9.896], "nice": false, "zero": false}},
                      "y": {"field": "counts", "type": "quantitative", "scale": {"domain": [0, 100], "nice": false, "zero": false}},
                      "text": {"field": "label"}}},
        {"data": {"name": "labels"}, "transform": [{"filter": "datum.panel === 'd' && datum.kind === 'ratio'"}],
         "mark": {"type": "text", "fontSize": 29, "align": "center", "baseline": "middle"},
         "encoding": {"x": {"field": "keV", "type": "quantitative", "scale": {"domain": [0.075, 9.896], "nice": false, "zero": false}},
                      "y": {"field": "counts", "type": "quantitative", "scale": {"domain": [0, 100], "nice": false, "zero": false}},
                      "text": {"field": "label"}}},
        {"data": {"name": "labels"}, "transform": [{"filter": "datum.panel === 'd' && datum.kind === 'letter'"}],
         "mark": {"type": "text", "fontSize": 58, "align": "right", "baseline": "alphabetic"},
         "encoding": {"x": {"field": "keV", "type": "quantitative", "scale": {"domain": [0.075, 9.896], "nice": false, "zero": false}},
                      "y": {"field": "counts", "type": "quantitative", "scale": {"domain": [0, 100], "nice": false, "zero": false}},
                      "text": {"field": "label"}}}
      ]
    }
  ]
}
